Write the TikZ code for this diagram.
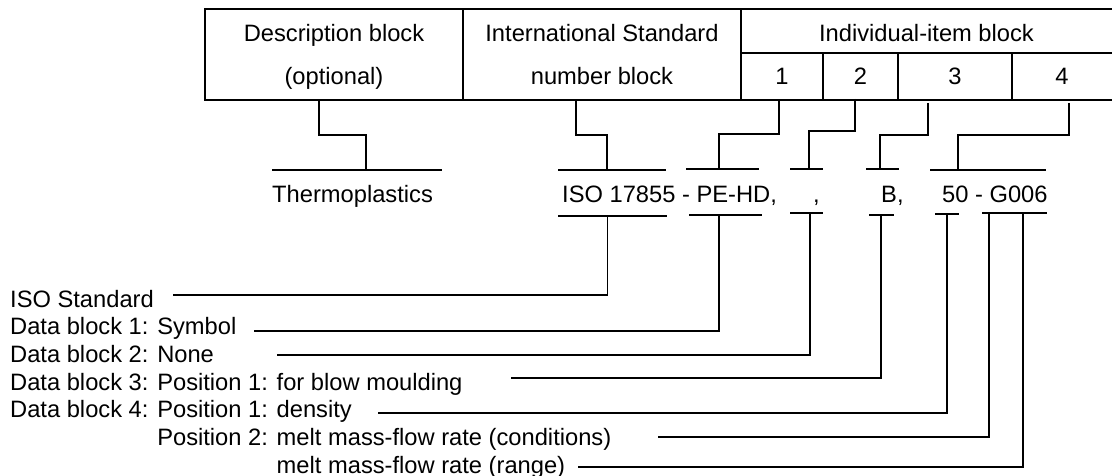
\documentclass[tikz,border=0pt]{standalone}
\usepackage{fontspec}
\setmainfont{Liberation Sans}
\begin{document}
\begin{tikzpicture}[x=1pt,y=-1pt,
  tbl/.style={line width=1.1pt},
  con/.style={line width=1.7pt},
  bar/.style={line width=1.7pt},
  lbl/.style={inner sep=0pt, font=\fontsize{23.7}{28}\selectfont},
  cell/.style={lbl, anchor=base},
  txt/.style={lbl, anchor=base west},
]
\useasboundingbox (0,0) rectangle (1112,476);

% ---- table ----
\coordinate (tTL) at (205,9);
\coordinate (tTR) at (1113,9);
\coordinate (tBL) at (205,100);
\coordinate (tBR) at (1113,100);
\draw[tbl] (tTR) -- (tTL) -- (tBL) -- (tBR);
\draw[tbl] (463,9) -- (463,100);
\draw[tbl] (741,9) -- (741,100);
\draw[tbl] (741,53) -- (1113,53);
\draw[tbl] (823,53) -- (823,100);
\draw[tbl] (898,53) -- (898,100);
\draw[tbl] (1012,53) -- (1012,100);

\node[cell] (desc1) at (334,42) {Description block};
\node[cell] (desc2) at (334,85) {(optional)};
\node[cell] (intl1) at (602,42) {International Standard};
\node[cell] (intl2) at (602,85) {number block};
\node[cell] (indiv) at (926.5,42) {Individual-item block};
\node[cell] (c1) at (782,85) {1};
\node[cell] (c2) at (860.5,85) {2};
\node[cell] (c3) at (955,85) {3};
\node[cell] (c4) at (1062,85) {4};

% ---- designation row ----
\node[txt] (thermo) at (272,203) {Thermoplastics};
\node[txt] (iso) at (562,203) {ISO 17855 - PE-HD,};
\node[txt] (comma) at (813,203) {,};
\node[txt] (bb) at (881,203) {B,};
\node[txt] (mfr) at (942,203) {50 - G006};

% bars above
\coordinate (a1l) at (272,170); \coordinate (a1r) at (442,170);
\coordinate (a2l) at (558,170); \coordinate (a2r) at (666,170);
\coordinate (a3l) at (686,169); \coordinate (a3r) at (759,169);
\coordinate (a4l) at (790,169); \coordinate (a4r) at (823,169);
\coordinate (a5l) at (866,169); \coordinate (a5r) at (899,169);
\coordinate (a6l) at (930,170); \coordinate (a6r) at (1046,170);
\foreach \i in {1,...,6} \draw[bar] (a\i l) -- (a\i r);

% bars below
\coordinate (u1l) at (558,216); \coordinate (u1r) at (667,216);
\coordinate (u2l) at (689,215); \coordinate (u2r) at (762,215);
\coordinate (u3l) at (790,213); \coordinate (u3r) at (823,213);
\coordinate (u4l) at (869,215); \coordinate (u4r) at (894,215);
\coordinate (u5l) at (935,214); \coordinate (u5r) at (959,214);
\coordinate (u6l) at (982,213); \coordinate (u6r) at (1047,213);
\foreach \i in {1,...,6} \draw[bar] (u\i l) -- (u\i r);

% connectors table -> bars
\draw[con] (319,101) |- (366,135) -- (366,170);
\draw[con] (576,101) |- (607,135) -- (607,170);
\draw[con] (779,101) |- (719,134) -- (719,169);
\draw[con] (855,99) |- (809,131) -- (809,169);
\draw[con] (928,103) |- (880,135) -- (880,169);
\draw[con] (1069,103) |- (958,135) -- (958,170);

% ---- legend labels ----
\node[txt] (l1) at (10,307) {ISO Standard};
\node[txt] (l2) at (10,334.7) {Data block 1: Symbol};
\node[txt] (l3) at (10,362.4) {Data block 2: None};
\node[txt] (l4) at (10,390.1) {Data block 3: Position 1: for blow moulding};
\node[txt] (l5) at (10,417.8) {Data block 4: Position 1: density};
\node[txt] (l6) at (10,445.5) {\phantom{Data block 4: }Position 2: melt mass-flow rate (conditions)};
\node[txt] (l7) at (10,473.2) {\phantom{Data block 4: Position 2: }melt mass-flow rate (range)};

\coordinate (e1) at (173,295);
\coordinate (e2) at (254,331);
\coordinate (e3) at (277,355);
\coordinate (e4) at (511,378);
\coordinate (e5) at (378,413);
\coordinate (e6) at (658,437);
\coordinate (e7) at (578,467);

\draw[con] (e1) -| (607.5,216);
\draw[con] (e2) -| (719,215);
\draw[con] (e3) -| (810,213);
\draw[con] (e4) -| (881,215);
\draw[con] (e5) -| (947,214);
\draw[con] (e6) -| (989,213);
\draw[con] (e7) -| (1023,213);
\end{tikzpicture}
\end{document}
